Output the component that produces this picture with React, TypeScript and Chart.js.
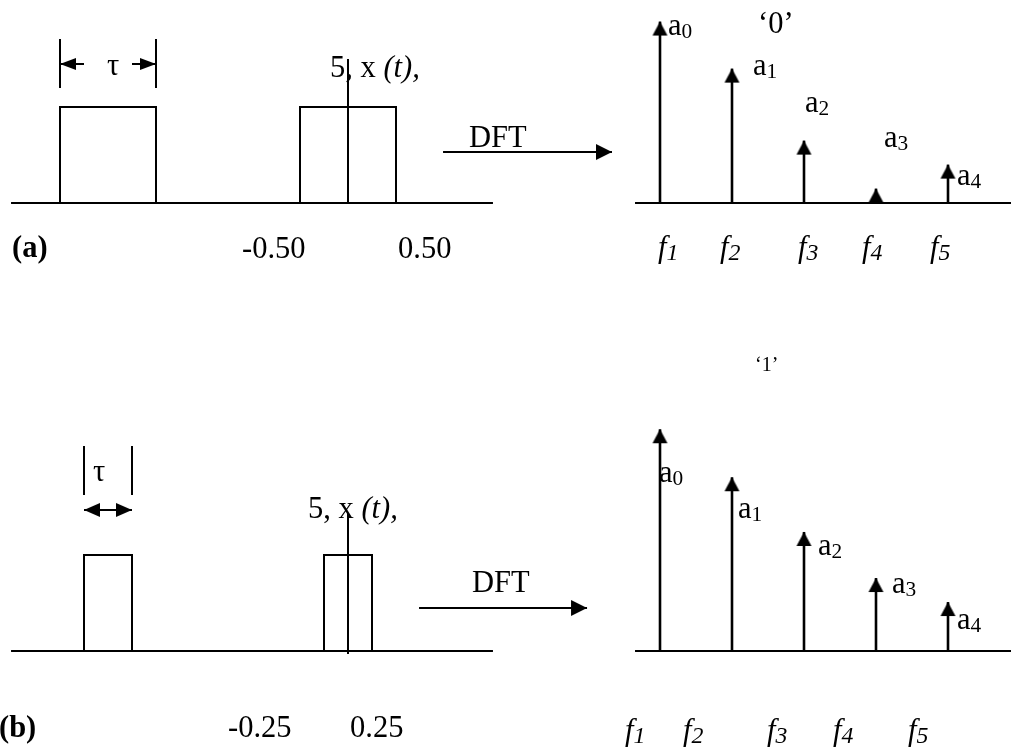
import React, { useEffect, useRef } from 'react';
import { Chart, registerables } from 'chart.js';

Chart.register(...registerables);

// ---------- data ----------
const PULSE_CENTERS = [-2.5, 0];
const PULSE_HEIGHT = 1;
const TAU_TOP = 1.0;
const TAU_BOTTOM = 0.5;
const TICKS_TOP = ['-0.50', '0.50'];
const TICKS_BOTTOM = ['-0.25', '0.25'];
const FREQS = [1, 2, 3, 4, 5];
const FREQ_SUBS = ['1', '2', '3', '4', '5'];
const AMP_SUBS = ['0', '1', '2', '3', '4'];
const AMPS_TOP = [1.89, 1.4, 0.65, 0.15, 0.4];
const AMPS_BOTTOM = [2.31, 1.81, 1.24, 0.76, 0.51];
const ROW_LABELS = ['(a)', '(b)'];
const BIT_LABELS = ['\u20180\u2019', '\u20181\u2019'];
const SIGNAL_LABEL = ['5, x ', '(t),'];
const TRANSFORM_LABEL = 'DFT';
const TAU_LABEL = '\u03C4';

// ---------- layout ----------
const FONT = '"Liberation Serif", "Times New Roman", serif';
const BASE = 30.5;

type Run = { t: string; it?: boolean; b?: boolean; sub?: number };
type TextItem = { x: number; y: number; runs: Run[]; size?: number };

type RowCfg = {
  top: number;
  height: number;
  tau: number;
  amps: number[];
  ticks: string[];
  rowLabel: string;
  bitLabel: string;
  y: [number, number];
  baseT: [number, number];
  baseF: [number, number];
  axisY: [number, number];
  tauBarY: [number, number];
  tauArrowY: number;
  tauGap: number;
  tauHead: [number, number];
  dftY: number;
  dftX: [number, number];
  txt: {
    tau: [number, number];
    signal: [number, number];
    row: [number, number];
    ticksX: number[];
    ticksY: number;
    dft: [number, number];
    bit: [number, number, number];
    aX: number[];
    aY: number[];
    fX: number[];
    fY: number;
  };
};

const XT: [number, number] = [-348 / 96, (1011 - 348) / 96];
const XF: [number, number] = [1 - 660 / 72, 1 + 351 / 72];

const TOP_ROW: RowCfg = {
  top: 0,
  height: 300,
  tau: TAU_TOP,
  amps: AMPS_TOP,
  ticks: TICKS_TOP,
  rowLabel: ROW_LABELS[0],
  bitLabel: BIT_LABELS[0],
  y: [-97 / 96, 203 / 96],
  baseT: [-3.51, 1.51],
  baseF: [0.653, 6],
  axisY: [0, 1.5],
  tauBarY: [1.198, 1.708],
  tauArrowY: 1.448,
  tauGap: 0.25,
  tauHead: [12, 16],
  dftY: 0.531,
  dftX: [0.99, 2.75],
  txt: {
    tau: [107, 75],
    signal: [330, 77],
    row: [12, 257],
    ticksX: [242, 398],
    ticksY: 258,
    dft: [469, 147],
    bit: [758, 33, BASE],
    aX: [668, 753, 805, 884, 957],
    aY: [35, 75, 112, 147, 185],
    fX: [658, 720, 798, 862, 930],
    fY: 257,
  },
};

const BOTTOM_ROW: RowCfg = {
  top: 300,
  height: 449,
  tau: TAU_BOTTOM,
  amps: AMPS_BOTTOM,
  ticks: TICKS_BOTTOM,
  rowLabel: ROW_LABELS[1],
  bitLabel: BIT_LABELS[1],
  y: [-98 / 96, 351 / 96],
  baseT: [-3.51, 1.51],
  baseF: [0.653, 6],
  axisY: [-0.03, 1.4375],
  tauBarY: [1.625, 2.135],
  tauArrowY: 1.469,
  tauGap: 0,
  tauHead: [14, 16],
  dftY: 0.448,
  dftX: [0.74, 2.49],
  txt: {
    tau: [93, 481],
    signal: [308, 518],
    row: [-1, 737],
    ticksX: [228, 350],
    ticksY: 737,
    dft: [472, 592],
    bit: [755, 371, 20],
    aX: [659, 738, 818, 892, 957],
    aY: [482, 518, 555, 593, 629],
    fX: [625, 683, 767, 833, 908],
    fY: 740,
  },
};

function makeHead(w: number, h: number): HTMLCanvasElement {
  const c = document.createElement('canvas');
  const W = Math.ceil(w) + 2;
  const H = Math.ceil(h) * 2 + 2;
  c.width = W;
  c.height = H;
  const g = c.getContext('2d')!;
  g.fillStyle = '#000';
  g.beginPath();
  g.moveTo(W / 2, H / 2);
  g.lineTo(W / 2 + w / 2, H / 2 + h);
  g.lineTo(W / 2 - w / 2, H / 2 + h);
  g.closePath();
  g.fill();
  return c;
}

function drawRuns(ctx: CanvasRenderingContext2D, item: TextItem) {
  const base = item.size ?? BASE;
  let cx = item.x;
  ctx.textBaseline = 'alphabetic';
  ctx.textAlign = 'left';
  ctx.fillStyle = '#000';
  for (const r of item.runs) {
    const size = r.sub ? base * r.sub : base;
    ctx.font = `${r.it ? 'italic ' : ''}${r.b ? 'bold ' : ''}${size}px ${FONT}`;
    const dy = r.sub ? base * 0.11 : 0;
    ctx.fillText(r.t, cx, item.y + dy);
    cx += ctx.measureText(r.t).width;
  }
}

function buildRow(canvas: HTMLCanvasElement, cfg: RowCfg): Chart {
  const specHead = makeHead(15, 14);
  const tauHead = makeHead(cfg.tauHead[0], cfg.tauHead[1]);
  const dftHead = makeHead(16, 16);

  const line = (axis: string, pts: { x: number; y: number }[], width: number) => ({
    data: pts,
    xAxisID: axis,
    yAxisID: 'y',
    showLine: true,
    borderColor: '#000',
    borderWidth: width,
    pointRadius: 0,
    pointHoverRadius: 0,
    pointHitRadius: 0,
    fill: false,
    tension: 0,
    borderCapStyle: 'butt',
    borderJoinStyle: 'miter',
  });
  const heads = (axis: string, pts: { x: number; y: number }[], img: HTMLCanvasElement, rot: number) => ({
    data: pts,
    xAxisID: axis,
    yAxisID: 'y',
    showLine: false,
    pointStyle: img,
    pointRadius: 8,
    pointHoverRadius: 8,
    pointRotation: rot,
    pointBackgroundColor: '#000',
    pointBorderWidth: 0,
  });

  const datasets: any[] = [];
  // time-domain baseline
  datasets.push(line('xt', [{ x: cfg.baseT[0], y: 0 }, { x: cfg.baseT[1], y: 0 }], 2));
  // pulses
  PULSE_CENTERS.forEach((c) => {
    const l = c - cfg.tau / 2;
    const r = c + cfg.tau / 2;
    datasets.push(
      line('xt', [
        { x: l, y: 0 },
        { x: l, y: PULSE_HEIGHT },
        { x: r, y: PULSE_HEIGHT },
        { x: r, y: 0 },
      ], 2)
    );
  });
  // vertical axis
  datasets.push(line('xt', [{ x: 0, y: cfg.axisY[0] }, { x: 0, y: cfg.axisY[1] }], 2));
  // tau marker bars
  const c0 = PULSE_CENTERS[0];
  const tl = c0 - cfg.tau / 2;
  const tr = c0 + cfg.tau / 2;
  datasets.push(line('xt', [{ x: tl, y: cfg.tauBarY[0] }, { x: tl, y: cfg.tauBarY[1] }], 2));
  datasets.push(line('xt', [{ x: tr, y: cfg.tauBarY[0] }, { x: tr, y: cfg.tauBarY[1] }], 2));
  // tau arrows
  datasets.push(line('xt', [{ x: c0 - cfg.tauGap, y: cfg.tauArrowY }, { x: tl, y: cfg.tauArrowY }], 2));
  datasets.push(line('xt', [{ x: c0 + cfg.tauGap, y: cfg.tauArrowY }, { x: tr, y: cfg.tauArrowY }], 2));
  datasets.push(heads('xt', [{ x: tl, y: cfg.tauArrowY }], tauHead, -90));
  datasets.push(heads('xt', [{ x: tr, y: cfg.tauArrowY }], tauHead, 90));
  // DFT arrow
  datasets.push(line('xt', [{ x: cfg.dftX[0], y: cfg.dftY }, { x: cfg.dftX[1], y: cfg.dftY }], 2));
  datasets.push(heads('xt', [{ x: cfg.dftX[1], y: cfg.dftY }], dftHead, 90));
  // spectrum baseline
  datasets.push(line('xf', [{ x: cfg.baseF[0], y: 0 }, { x: cfg.baseF[1], y: 0 }], 2));
  // stems
  FREQS.forEach((f, i) => {
    datasets.push(line('xf', [{ x: f, y: 0 }, { x: f, y: cfg.amps[i] }], 2.6));
  });
  datasets.push(heads('xf', FREQS.map((f, i) => ({ x: f, y: cfg.amps[i] })), specHead, 0));

  const t = cfg.txt;
  const off = cfg.top;
  const items: TextItem[] = [];
  items.push({ x: t.tau[0], y: t.tau[1] - off, runs: [{ t: TAU_LABEL }] });
  items.push({ x: t.signal[0], y: t.signal[1] - off, runs: [{ t: SIGNAL_LABEL[0] }, { t: SIGNAL_LABEL[1], it: true }] });
  items.push({ x: t.row[0], y: t.row[1] - off, runs: [{ t: cfg.rowLabel, b: true }] });
  cfg.ticks.forEach((tk, i) => items.push({ x: t.ticksX[i], y: t.ticksY - off, runs: [{ t: tk }] }));
  items.push({ x: t.dft[0], y: t.dft[1] - off, runs: [{ t: TRANSFORM_LABEL }] });
  items.push({ x: t.bit[0], y: t.bit[1] - off, runs: [{ t: cfg.bitLabel }], size: t.bit[2] });
  AMP_SUBS.forEach((s, i) =>
    items.push({ x: t.aX[i], y: t.aY[i] - off, runs: [{ t: 'a' }, { t: s, sub: 0.7 }] })
  );
  FREQ_SUBS.forEach((s, i) =>
    items.push({ x: t.fX[i], y: t.fY - off, runs: [{ t: 'f', it: true }, { t: s, it: true, sub: 0.78 }] })
  );

  const textPlugin = {
    id: 'textLayer',
    afterDatasetsDraw(chart: Chart) {
      const ctx = chart.ctx;
      ctx.save();
      items.forEach((it) => drawRuns(ctx, it));
      ctx.restore();
    },
  };

  return new Chart(canvas, {
    type: 'scatter',
    data: { datasets },
    options: {
      animation: false,
      responsive: false,
      maintainAspectRatio: false,
      devicePixelRatio: 1,
      events: [],
      layout: { padding: 0, autoPadding: false },
      plugins: { legend: { display: false }, tooltip: { enabled: false }, title: { display: false } },
      scales: {
        xt: { type: 'linear', axis: 'x', min: XT[0], max: XT[1], display: false },
        xf: { type: 'linear', axis: 'x', min: XF[0], max: XF[1], display: false },
        y: { type: 'linear', min: cfg.y[0], max: cfg.y[1], display: false },
      },
    } as any,
    plugins: [textPlugin],
  } as any);
}

export default function App() {
  const topRef = useRef<HTMLCanvasElement>(null);
  const botRef = useRef<HTMLCanvasElement>(null);
  useEffect(() => {
    const c1 = buildRow(topRef.current!, TOP_ROW);
    const c2 = buildRow(botRef.current!, BOTTOM_ROW);
    return () => {
      c1.destroy();
      c2.destroy();
    };
  }, []);
  return (
    <div
      style={{
        position: 'absolute',
        left: 0,
        top: 0,
        width: 1011,
        height: 749,
        background: '#fff',
        overflow: 'hidden',
      }}
    >
      <canvas
        ref={topRef}
        width={1011}
        height={300}
        style={{ position: 'absolute', left: 0, top: 0, width: 1011, height: 300 }}
      />
      <canvas
        ref={botRef}
        width={1011}
        height={449}
        style={{ position: 'absolute', left: 0, top: 300, width: 1011, height: 449 }}
      />
    </div>
  );
}
